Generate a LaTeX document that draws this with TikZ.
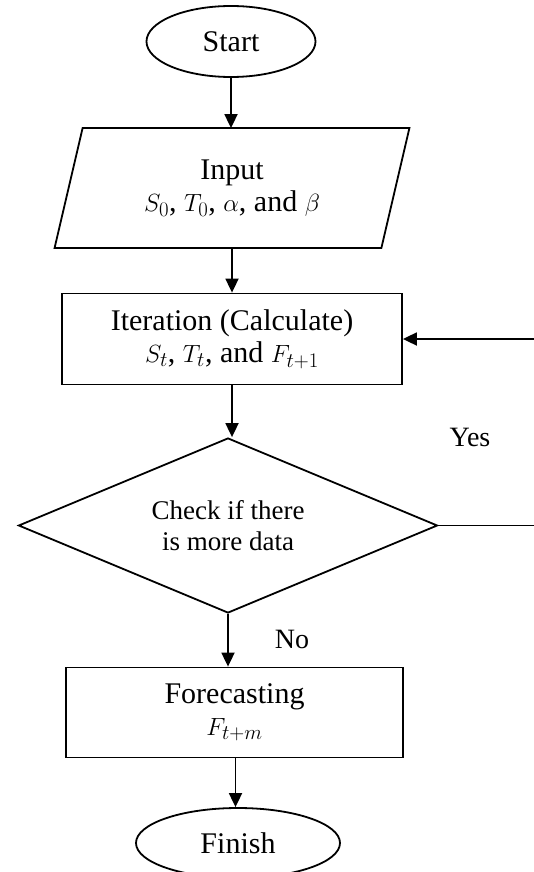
\documentclass[tikz,border=0pt]{standalone}
\usepackage{fontspec}
\setmainfont{Liberation Serif}
\usetikzlibrary{shapes.geometric,arrows.meta,calc}
\begin{document}
\begin{tikzpicture}[x=1pt,y=-1pt,
  line width=1.8pt,
  bigtext/.style={font=\fontsize{30}{32}\selectfont},
  smalltext/.style={font=\fontsize{27}{31}\selectfont},
  term/.style={draw, ellipse, inner sep=0pt, bigtext},
  procbox/.style={draw, rectangle, inner sep=0pt, align=center, bigtext},
  iobox/.style={rectangle, inner sep=0pt, align=center, bigtext},
  decision/.style={draw, diamond, aspect=2.4, inner sep=0pt, align=center, smalltext},
  lbl/.style={inner sep=0pt, font=\fontsize{28}{30}\selectfont},
  arr/.style={-{Triangle[length=14pt,width=13pt]}}
]
\useasboundingbox (0,0) rectangle (533,872);

\node[term, minimum width=169pt, minimum height=71pt] (start) at (231,41.5) {Start};
\node[iobox, minimum width=325pt, minimum height=118pt] (inp) at (232,188) {Input\\$S_0$, $T_0$, $\alpha$, and $\beta$};
\draw ([xshift=14pt]inp.north west) -- ([xshift=14pt]inp.north east) -- ([xshift=-14pt]inp.south east) -- ([xshift=-14pt]inp.south west) -- cycle;
\node[procbox, minimum width=340pt, minimum height=91pt] (it) at (232,339) {Iteration (Calculate)\\$S_t$, $T_t$, and $F_{t+1}$};
\node[decision, minimum width=419pt, minimum height=175pt] (dia) at (228,525.5) {Check if there\\is more data};
\node[procbox, minimum width=337pt, minimum height=90pt] (fc) at (234.5,712.5) {Forecasting\\$F_{t+m}$};
\node[term, minimum width=204pt, minimum height=70pt] (fin) at (238,843) {Finish};

\node[lbl] (yes) at (470,437) {Yes};
\node[lbl] (no) at (292,639) {No};

\coordinate (ry) at (548,525.5);

\draw[arr] (start.south) -- (start.south |- inp.north);
\draw[arr] (inp.south) -- (inp.south |- it.north);
\draw[arr] (it.south) -- (it.south |- dia.north);
\draw[arr] (dia.south) -- (dia.south |- fc.north);
\draw[arr] ([xshift=1pt]fc.south) -- ([xshift=1pt]fc.south |- fin.north);
\draw[arr] (dia.east) -- (ry) -- (ry |- it.east) -- (it.east);
\end{tikzpicture}
\end{document}
